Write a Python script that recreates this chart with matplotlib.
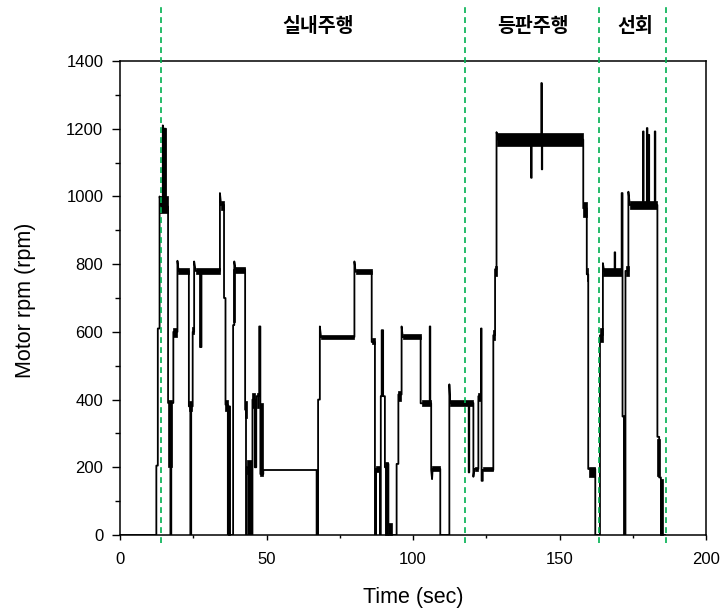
import matplotlib
matplotlib.use("Agg")
import matplotlib.pyplot as plt
from matplotlib.ticker import MultipleLocator

plt.rcParams['font.family'] = ['Liberation Sans', 'DejaVu Sans']

# Motor speed trace: breakpoints (time in s, speed in rpm)
time_s = [0, 12.4, 12.4, 12.9, 12.9, 13.5, 13.5, 14.0, 14.6, 14.6, 15.0, 15.0, 15.3, 15.3, 15.7, 15.7,
          16.4, 16.4, 17.2, 17.2, 17.5, 17.5, 18.2, 18.2, 19.6, 19.6, 20.0, 23.5, 23.5, 24.0, 24.0,
          24.3, 24.3, 24.8, 24.8, 25.3, 25.3, 25.8, 27.3, 27.3, 27.8, 27.8, 34.1, 34.1, 34.5, 35.5,
          35.5, 36.0, 36.0, 36.8, 36.8, 37.2, 37.2, 37.5, 37.5, 38.6, 38.6, 39.0, 39.0, 39.4, 42.7,
          42.7, 43.0, 43.0, 43.3, 43.3, 44.0, 44.0, 44.3, 44.3, 44.9, 44.9, 45.2, 45.2, 46.0, 46.0,
          46.5, 46.5, 47.5, 47.5, 47.9, 47.9, 48.9, 48.9, 67.1, 67.1, 67.6, 67.6, 68.2, 68.2, 68.6,
          80.0, 80.0, 80.4, 85.9, 85.9, 87.0, 87.0, 87.4, 87.4, 88.7, 88.7, 89.0, 89.0, 89.3, 89.3,
          89.8, 89.8, 90.4, 90.4, 90.8, 90.8, 91.1, 91.1, 91.6, 91.6, 92.2, 92.2, 94.4, 94.4, 95.0,
          95.0, 96.1, 96.1, 96.5, 102.6, 102.6, 105.7, 105.7, 105.9, 105.9, 106.2, 106.2, 106.5,
          106.7, 109.3, 109.3, 112.4, 112.4, 112.7, 119.0, 119.0, 119.2, 119.2, 120.6, 120.6, 120.9,
          122.3, 122.3, 123.2, 123.2, 123.4, 123.4, 123.8, 123.8, 127.4, 127.4, 128.0, 128.0, 128.5,
          128.5, 129.0, 140.3, 140.3, 140.5, 140.5, 143.8, 143.8, 143.95, 143.95, 144.1, 144.1,
          158.1, 158.1, 159.3, 159.3, 159.8, 159.8, 162.2, 162.2, 163.8, 163.8, 164.8, 164.8, 165.2,
          168.8, 168.8, 169.0, 169.0, 171.2, 171.2, 171.5, 171.5, 172.0, 172.0, 172.5, 172.5, 173.5,
          173.5, 174.0, 178.5, 178.5, 178.7, 178.7, 179.8, 179.8, 180.0, 180.0, 180.4, 180.4, 180.6,
          180.6, 182.5, 182.5, 182.7, 182.7, 183.4, 183.4, 184.0, 184.0, 184.6, 184.6, 186.0]
rpm_vals = [0, 0, 205, 205, 610, 610, 1000, 975, 975, 1210, 1195, 985, 985, 1200, 1200, 970,
            970, 390, 390, 0, 0, 390, 390, 600, 600, 810, 780, 780, 380, 380, 0,
            0, 380, 380, 600, 600, 808, 780, 780, 555, 555, 780, 780, 1010, 975, 975,
            700, 700, 385, 385, 0, 0, 380, 380, 0, 0, 620, 620, 808, 785, 785,
            370, 370, 0, 0, 200, 200, 0, 0, 210, 210, 0, 0, 400, 400, 200,
            200, 410, 410, 616, 616, 180, 180, 192, 192, 0, 0, 400, 400, 616, 585,
            585, 808, 778, 778, 570, 570, 0, 0, 195, 195, 0, 0, 410, 410, 605,
            605, 410, 410, 200, 200, 0, 0, 210, 210, 30, 30, 0, 0, 210, 210,
            415, 415, 616, 585, 585, 389, 389, 616, 616, 389, 389, 192, 165,
            195, 195, 0, 0, 445, 390, 390, 185, 185, 390, 390, 172, 195,
            195, 410, 410, 610, 610, 160, 160, 192, 192, 590, 590, 785, 785,
            1190, 1168, 1168, 1055, 1055, 1170, 1170, 1335, 1335, 1080, 1080, 1168,
            1168, 965, 965, 770, 770, 195, 195, 0, 0, 590, 590, 803, 780,
            780, 835, 835, 775, 775, 1010, 1010, 350, 350, 0, 0, 780, 780,
            1014, 975, 975, 1192, 1192, 975, 975, 1202, 1202, 975, 975, 1182,
            1182, 975, 975, 1192, 1192, 975, 975, 290, 290, 170, 170, 0, 0]

# Envelope of the fast fluctuations on each plateau: start, end, low, high
band_t0 = [13.5, 16.4, 18.2, 19.9, 23.4, 24.5, 25.8, 34.4, 36.0, 36.8, 38.6, 39.3, 42.7, 43.3,
           45.2, 46.6, 47.8, 68.6, 80.4, 85.9, 87.4, 89.0, 90.4, 91.6, 95.0, 96.5, 102.9, 106.4,
           112.6, 121.0, 122.3, 124.0, 127.4, 128.0, 128.5, 158.1, 159.3, 160.0, 163.9, 165.0,
           171.5, 172.6, 174.0, 183.4, 184.3]
band_t1 = [16.4, 17.9, 19.4, 23.5, 24.5, 25.3, 34.1, 35.5, 36.8, 37.7, 39.2, 42.7, 43.3, 45.0,
           46.0, 47.5, 48.9, 80.0, 85.9, 87.0, 88.7, 89.8, 91.6, 92.9, 96.0, 102.6, 106.0, 109.3,
           120.6, 122.2, 123.2, 127.4, 128.0, 128.5, 158.1, 159.3, 159.8, 162.1, 164.8, 171.2,
           172.4, 173.6, 183.4, 184.3, 185.2]
band_lo = [950, 200, 585, 772, 365, 595, 772, 960, 365, 0, 630, 775, 345, 180,
           375, 375, 175, 578, 772, 563, 185, 410, 0, 0, 395, 580, 382, 188,
           382, 188, 395, 188, 575, 765, 1150, 940, 750, 170, 570, 765,
           195, 765, 962, 175, 0]
band_hi = [1000, 400, 612, 788, 395, 615, 788, 988, 398, 380, 785, 792, 395, 222,
           420, 420, 390, 591, 786, 582, 205, 600, 215, 35, 425, 593, 398, 203,
           398, 200, 418, 200, 605, 795, 1186, 985, 790, 202, 610, 788,
           355, 795, 988, 285, 165]

# Test sections (boundaries in s) and their names
section_bounds = [13.9, 117.7, 163.6, 186.2]
section_names = ['실내주행', '등판주행', '선회']
section_centers = [67.6, 141.0, 175.8]

fig = plt.figure(figsize=(7.26, 6.09), dpi=100)
ax = fig.add_axes([0.1653, 0.1215, 0.8072, 0.7783])

for t0, t1, lo, hi in zip(band_t0, band_t1, band_lo, band_hi):
    ax.fill_between([t0, t1], [lo, lo], [hi, hi], color='black', lw=0.5, edgecolor='black')
ax.plot(time_s, rpm_vals, color='black', lw=1.3)

for xb in section_bounds:
    ax.plot([xb, xb], [-25, 1560], color='#00B050', lw=1.2, ls=(0, (3.5, 2.5)), clip_on=False, zorder=5)
for name, xc in zip(section_names, section_centers):
    ax.text(xc, 1502, name, ha='center', va='center', fontsize=14, weight='bold',
            family=['Noto Sans CJK KR', 'DejaVu Sans'], clip_on=False)

ax.set_xlim(0, 200)
ax.set_ylim(0, 1400)
ax.xaxis.set_major_locator(MultipleLocator(50))
ax.xaxis.set_minor_locator(MultipleLocator(25))
ax.yaxis.set_major_locator(MultipleLocator(200))
ax.yaxis.set_minor_locator(MultipleLocator(100))
ax.tick_params(axis='x', which='major', direction='out', length=3.5, width=1.0, labelsize=12, pad=9)
ax.tick_params(axis='x', which='minor', direction='out', length=2.5, width=1.0)
ax.tick_params(axis='y', which='major', direction='out', length=6, width=1.0, labelsize=12, pad=6)
ax.tick_params(axis='y', which='minor', direction='out', length=3.5, width=1.0)
ax.tick_params(top=False, right=False, which='both')
for sp in ax.spines.values():
    sp.set_linewidth(1.1)

ax.set_xlabel('Time (sec)', fontsize=15.5)
ax.set_ylabel('Motor rpm (rpm)', fontsize=15.5)
ax.xaxis.set_label_coords(0.5, -0.131)
ax.xaxis.label.set_va('center')
ax.yaxis.set_label_coords(-0.162, 0.496)
ax.yaxis.label.set_va('center')

fig.savefig('out.png', dpi=100)
